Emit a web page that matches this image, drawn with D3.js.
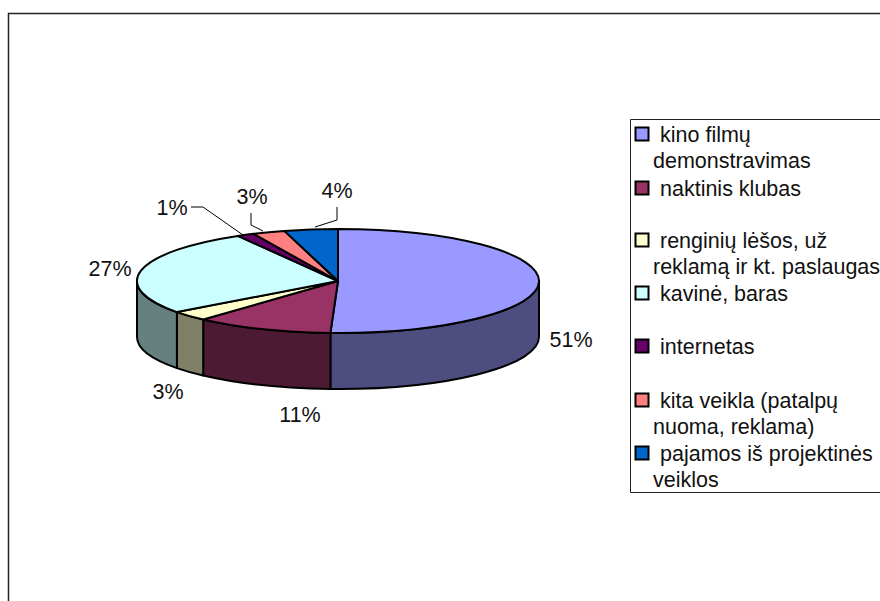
<!DOCTYPE html>
<html><head><meta charset="utf-8">
<script src="https://cdnjs.cloudflare.com/ajax/libs/d3/7.8.5/d3.min.js"></script>
<style>html,body{margin:0;padding:0;background:#fff}svg{display:block}text{font-family:"Liberation Sans",Arial,sans-serif;fill:#111}</style>
</head><body><svg id="c" width="880" height="601"></svg>
<script>
const categories=[["kino filmų","demonstravimas"],["naktinis klubas"],["renginių lėšos, už","reklamą ir kt. paslaugas"],["kavinė, baras"],["internetas"],["kita veikla (patalpų","nuoma, reklama)"],["pajamos iš projektinės","veiklos"]];
const values=[50.6,11.1,3.1,26.9,1.4,2.6,4.3];
const valueLabels=["51%","11%","3%","27%","1%","3%","4%"];
const topColors=["#9999FF","#993366","#FFFFCC","#CCFFFF","#660066","#FF8080","#0066CC"];
const sideColors=["#4D4D80","#4D1A33","#808066","#668080","#330033","#804040","#003366"];

// layout (separate from the data)
const W=880,H=601,cx=338,cy=281,rx=201,ry=52,depth=56;
const labelAt=[[571,339],[300,414],[168,391],[110,268],[172,207],[252,196],[337,190]];
const leaders={4:[[191,207],[203,207],[243,235]],5:[[251,213],[251,225],[263,231]],6:[[337,207],[337,220],[315,227]]};
const legendRowY=[134,188,240,293,346,400,453];
const fs=21.5,lineH=26;

const svg=d3.select("#c");
svg.append("path").attr("d",`M8.5,${H}V13.5H${W}`).attr("fill","none").attr("stroke","#222").attr("stroke-width",1.5);

const arcs=d3.pie().sort(null).startAngle(0).endAngle(2*Math.PI)(values);
const pt=(a,dy=0)=>[cx+rx*Math.sin(a),cy-ry*Math.cos(a)+dy];
function topPath(a0,a1){
  const [x0,y0]=pt(a0),[x1,y1]=pt(a1),large=(a1-a0)>Math.PI?1:0;
  return `M${cx},${cy}L${x0},${y0}A${rx},${ry} 0 ${large} 1 ${x1},${y1}Z`;
}
function sidePath(a0,a1){
  const s=Math.max(a0,Math.PI/2),e=Math.min(a1,Math.PI*1.5);
  if(e<=s)return null;
  const [x0,y0]=pt(s),[x1,y1]=pt(e),[x2,y2]=pt(e,depth),[x3,y3]=pt(s,depth);
  return `M${x0},${y0}A${rx},${ry} 0 0 1 ${x1},${y1}L${x2},${y2}A${rx},${ry} 0 0 0 ${x3},${y3}Z`;
}
const pie=svg.append("g").attr("stroke","#000").attr("stroke-width",2).attr("stroke-linejoin","round");
pie.selectAll("path.side").data(arcs.filter(d=>sidePath(d.startAngle,d.endAngle))).join("path").attr("class","side")
  .attr("d",d=>sidePath(d.startAngle,d.endAngle)).attr("fill",d=>sideColors[d.index]);
pie.selectAll("path.top").data(arcs).join("path").attr("class","top")
  .attr("d",d=>topPath(d.startAngle,d.endAngle)).attr("fill",d=>topColors[d.index]);

svg.append("g").selectAll("path").data(Object.values(leaders)).join("path")
  .attr("d",d3.line()).attr("fill","none").attr("stroke","#000").attr("stroke-width",1);
svg.append("g").selectAll("text").data(valueLabels).join("text")
  .attr("x",(d,i)=>labelAt[i][0]).attr("y",(d,i)=>labelAt[i][1]).attr("dy","0.36em")
  .attr("text-anchor","middle").attr("font-size",fs).text(d=>d);

// legend
svg.append("path").attr("d",`M${W},119.5H630.5V492.5H${W}`).attr("fill","none").attr("stroke","#222").attr("stroke-width",1);
const rows=svg.append("g").selectAll("g").data(categories).join("g")
  .attr("transform",(d,i)=>`translate(0,${legendRowY[i]})`);
rows.append("rect").attr("x",635.5).attr("y",-6.5).attr("width",13).attr("height",13)
  .attr("fill",(d,i)=>topColors[i]).attr("stroke","#000").attr("stroke-width",2);
rows.each(function(lines){
  d3.select(this).selectAll("text").data(lines).join("text")
    .attr("x",(d,j)=>j===0?660:653).attr("y",(d,j)=>j*lineH).attr("dy","0.36em")
    .attr("font-size",fs).text(d=>d);
});
</script></body></html>
